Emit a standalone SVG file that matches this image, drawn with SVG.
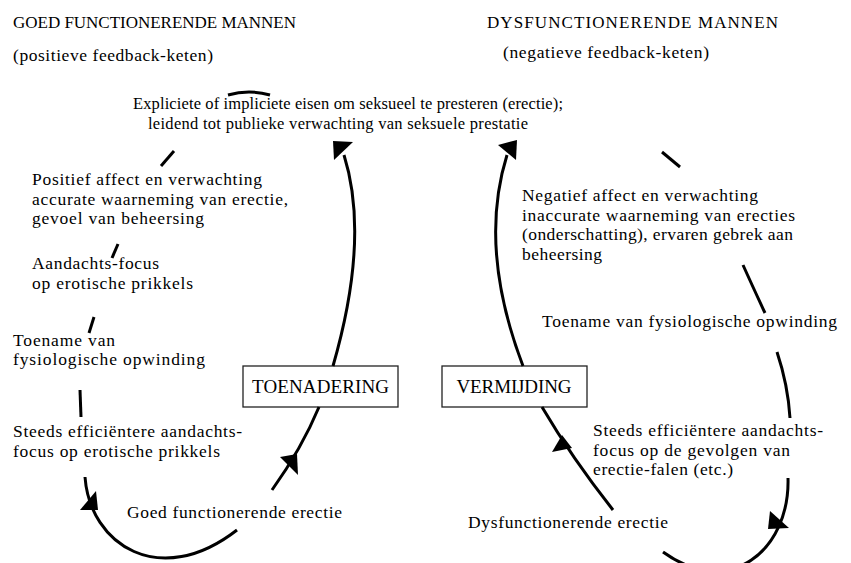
<svg xmlns="http://www.w3.org/2000/svg" width="851" height="563" viewBox="0 0 851 563">
<defs>
<style>
text { font-family: "Liberation Serif", "Times New Roman", serif; font-size: 17.5px; fill: #000; }
.hd { font-size: 17px; }
.top { font-size: 16.5px; }
.bx { font-size: 19px; }
.box { fill: #fff; stroke: #222; stroke-width: 1.3; }
.c { fill: none; stroke: #000; stroke-width: 3; }
.ah { fill: #000; stroke: none; }
</style>
</defs>
<rect width="851" height="563" fill="#fff"/>

<g id="title-left">
<text class="hd" x="13" y="28" textLength="283" lengthAdjust="spacing">GOED FUNCTIONERENDE MANNEN</text>
<text x="13" y="61" textLength="200" lengthAdjust="spacing">(positieve feedback-keten)</text>
</g>
<g id="title-right">
<text class="hd" x="487" y="28" textLength="291" lengthAdjust="spacing">DYSFUNCTIONERENDE MANNEN</text>
<text x="503" y="58" textLength="206" lengthAdjust="spacing">(negatieve feedback-keten)</text>
</g>

<g id="node-eisen">
<text class="top" x="133" y="109" textLength="430" lengthAdjust="spacing">Expliciete of impliciete eisen om seksueel te presteren (erectie);</text>
<text class="top" x="148" y="129" textLength="380" lengthAdjust="spacing">leidend tot publieke verwachting van seksuele prestatie</text>
</g>

<g id="node-positief">
<text x="32" y="185" textLength="230" lengthAdjust="spacing">Positief affect en verwachting</text>
<text x="32" y="204.5" textLength="256" lengthAdjust="spacing">accurate waarneming van erectie,</text>
<text x="32" y="224" textLength="172" lengthAdjust="spacing">gevoel van beheersing</text>
</g>
<g id="node-aandacht-left">
<text x="32" y="269" textLength="127" lengthAdjust="spacing">Aandachts-focus</text>
<text x="32" y="288.5" textLength="161" lengthAdjust="spacing">op erotische prikkels</text>
</g>
<g id="node-toename-left">
<text x="13" y="345.5" textLength="102" lengthAdjust="spacing">Toename van</text>
<text x="13" y="365" textLength="192" lengthAdjust="spacing">fysiologische opwinding</text>
</g>
<g id="node-steeds-left">
<text x="13" y="437" textLength="229" lengthAdjust="spacing">Steeds efficiëntere aandachts-</text>
<text x="13" y="456.5" textLength="207" lengthAdjust="spacing">focus op erotische prikkels</text>
</g>
<g id="node-goed-erectie">
<text x="127" y="518" textLength="215" lengthAdjust="spacing">Goed functionerende erectie</text>
</g>

<g id="node-negatief">
<text x="522" y="201" textLength="236" lengthAdjust="spacing">Negatief affect en verwachting</text>
<text x="522" y="220.5" textLength="273" lengthAdjust="spacing">inaccurate waarneming van erecties</text>
<text x="522" y="240" textLength="271" lengthAdjust="spacing">(onderschatting), ervaren gebrek aan</text>
<text x="522" y="259.5" textLength="80" lengthAdjust="spacing">beheersing</text>
</g>
<g id="node-toename-right">
<text x="542" y="327" textLength="295" lengthAdjust="spacing">Toename van fysiologische opwinding</text>
</g>
<g id="node-steeds-right">
<text x="593" y="436" textLength="230" lengthAdjust="spacing">Steeds efficiëntere aandachts-</text>
<text x="593" y="455.5" textLength="197" lengthAdjust="spacing">focus op de gevolgen van</text>
<text x="593" y="475" textLength="140" lengthAdjust="spacing">erectie-falen (etc.)</text>
</g>
<g id="node-dys-erectie">
<text x="468" y="528" textLength="200" lengthAdjust="spacing">Dysfunctionerende erectie</text>
</g>

<g id="node-toenadering">
<rect class="box" x="243" y="366" width="155" height="41"/>
<text class="bx" x="320.5" y="393" text-anchor="middle" textLength="137" lengthAdjust="spacing">TOENADERING</text>
</g>
<g id="node-vermijding">
<rect class="box" x="442" y="366" width="145" height="41"/>
<text class="bx" x="514" y="393" text-anchor="middle" textLength="115" lengthAdjust="spacing">VERMIJDING</text>
</g>

<g id="connectors">
<path class="c" d="M228,95 Q249,89 270,95"/>
<path class="c" d="M161,166 L174,151"/>
<path class="c" d="M112,258 L118,244"/>
<path class="c" d="M89,333 L94,317"/>
<path class="c" d="M80,390 L81,417"/>
<path class="c" d="M85,477 C90,545 160,590 237,530"/>
<polygon class="ah" points="80,510 96,491 98,510"/>
<path class="c" d="M319,407 Q302,448 272,490"/>
<polygon class="ah" points="280,457 297,454 298,475"/>
<path class="c" d="M333,366 Q370,238 344,155"/>
<polygon class="ah" points="333,141 353,142 334,160"/>

<path class="c" d="M523,366 Q478,248 507,155"/>
<polygon class="ah" points="498,145 517,140 516,160"/>
<path class="c" d="M542,407 Q572,458 613,510"/>
<polygon class="ah" points="552,452 562,435 572,448"/>
<path class="c" d="M662,152 L680,167"/>
<path class="c" d="M743,265 Q752,285 765,313"/>
<path class="c" d="M777,352 Q788,385 790,418"/>
<path class="c" d="M788,478 C790,550 730,600 663,552"/>
<polygon class="ah" points="770,511 789,528 768,529"/>
</g>
</svg>
